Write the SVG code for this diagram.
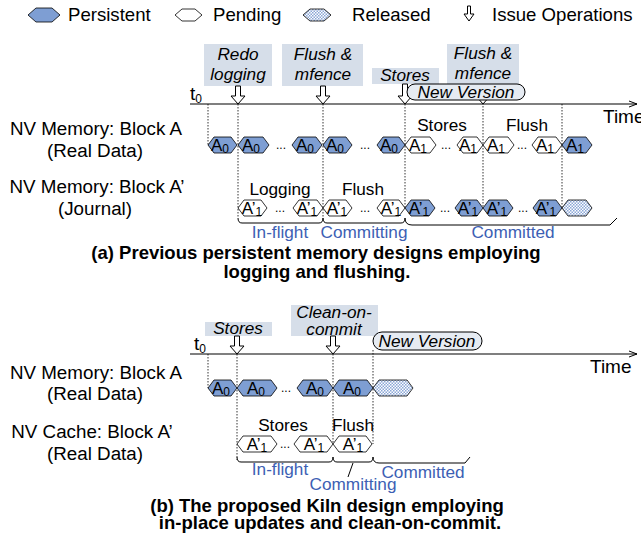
<svg xmlns="http://www.w3.org/2000/svg" width="641" height="534" viewBox="0 0 641 534">
<defs>
<pattern id="chk" width="3" height="3" patternUnits="userSpaceOnUse">
<rect width="3" height="3" fill="#ffffff"/>
<rect x="0" y="0" width="1.5" height="1.5" fill="#8aa6d6"/>
<rect x="1.5" y="1.5" width="1.5" height="1.5" fill="#8aa6d6"/>
</pattern>
<marker id="ax" markerWidth="10" markerHeight="8" refX="9" refY="4" orient="auto" markerUnits="userSpaceOnUse">
<path d="M1,1 L9,4 L1,7" fill="none" stroke="#000" stroke-width="1"/>
</marker>
</defs>
<style>
text{font-family:"Liberation Sans",Arial,sans-serif;fill:#000}
.lg{font-size:18.6px}
.lb{font-size:18.8px;text-anchor:middle}
.it{font-size:17.2px;font-style:italic;text-anchor:middle}
.sm{font-size:17.2px;text-anchor:middle}
.bl{font-size:17.2px;text-anchor:middle;fill:#3d5fb4}
.cap{font-size:18.5px;font-weight:bold;text-anchor:middle}
.hx{font-size:17px;text-anchor:middle}
.sub{font-size:12px}
.per{fill:#7e9ed3;stroke:#000;stroke-width:0.8}
.pen{fill:#fff;stroke:#000;stroke-width:0.8}
.rel{fill:url(#chk);stroke:#000;stroke-width:0.8}
.box{fill:#d6dee9}
.pill{fill:#e6ebf2;stroke:#000;stroke-width:1}
.dot{stroke:#000;stroke-width:0.8;stroke-dasharray:1.5,1.5;fill:none}
.axis{stroke:#000;stroke-width:1.2;fill:none}
.arr{fill:#fff;stroke:#000;stroke-width:1}
.br{fill:none;stroke:#000;stroke-width:1}
.dots{font-size:12px;text-anchor:middle}
.t0{font-size:19px}
.tm{font-size:19px}
</style>

<!-- Legend -->
<g id="legend">
<polygon class="per" points="28,15 36,8 52,8 60,15 52,22 36,22"/>
<text class="lg" x="68" y="21">Persistent</text>
<polygon class="pen" points="175,15 182,9 195,9 202,15 195,21 182,21"/>
<text class="lg" x="213" y="21">Pending</text>
<polygon class="rel" points="303,15 310,9 324,9 331,15 324,21 310,21"/>
<text class="lg" x="352" y="21">Released</text>
<polygon class="arr" points="467.5,6 470.5,6 470.5,14 474,14 469,21 464,14 467.5,14"/>
<text class="lg" x="492" y="21">Issue Operations</text>
</g>

<!-- Part (a) -->
<g id="a-labels">
<text class="lb" x="96" y="135">NV Memory: Block A</text>
<text class="lb" x="95" y="157">(Real Data)</text>
<text class="lb" x="97" y="193">NV Memory: Block A’</text>
<text class="lb" x="95" y="215">(Journal)</text>
<text class="cap" x="316" y="259">(a) Previous persistent memory designs employing</text>
<text class="cap" x="317" y="278">logging and flushing.</text>
</g>

<g id="a-ops">
<rect class="box" x="204" y="44" width="68" height="42"/>
<text class="it" x="238" y="60">Redo</text>
<text class="it" x="238" y="80">logging</text>
<rect class="box" x="282" y="44" width="81" height="42"/>
<text class="it" x="323" y="60">Flush &amp;</text>
<text class="it" x="323" y="80">mfence</text>
<rect class="box" x="372" y="68" width="67" height="16"/>
<text class="it" x="405" y="81">Stores</text>
<rect class="box" x="447" y="44" width="72" height="42"/>
<text class="it" x="483" y="59">Flush &amp;</text>
<text class="it" x="483" y="79">mfence</text>
</g>

<g id="connectors-a">
<line class="axis" x1="190" y1="104" x2="637" y2="104" marker-end="url(#ax)"/>
<line class="dot" x1="208" y1="104" x2="208" y2="145"/>
<line class="dot" x1="238" y1="104" x2="238" y2="218"/>
<line class="dot" x1="323" y1="104" x2="323" y2="218"/>
<line class="dot" x1="405" y1="104" x2="405" y2="208"/>
<line class="dot" x1="483" y1="100" x2="483" y2="208"/>
<line class="dot" x1="562" y1="104" x2="562" y2="208"/>
<polygon class="arr" points="235.5,86 240.5,86 240.5,96 245,96 238,104 231,96 235.5,96"/>
<polygon class="arr" points="320.5,86 325.5,86 325.5,96 330,96 323,104 316,96 320.5,96"/>
<polygon class="arr" points="402.5,84 407.5,84 407.5,96 412,96 405,104 398,96 402.5,96"/>
<polygon class="arr" points="480.5,86 485.5,86 485.5,96 490,96 483,104 476,96 480.5,96"/>
<path class="br" d="M238,218 Q238,223 242,223 L319,223 Q323,223 323,218"/>
<path class="br" d="M323,218 Q323,223 327,223 L401,223 Q405,223 405,218"/>
<path class="br" d="M405,218 Q405,225 412,225 L610,225 L617,218"/>
</g>

<g id="a-newversion">
<rect class="pill" x="407" y="84" width="118" height="16" rx="8"/>
<text class="it" x="466" y="98">New Version</text>
<text class="t0" x="190" y="100">t<tspan class="sub" dy="3">0</tspan></text>
<text class="tm" x="603" y="123">Time</text>
</g>

<g id="a-rowA">
<polygon class="per" points="208,145 214,137 231,137 237,145 231,153 214,153"/>
<text class="hx" x="220" y="151">A<tspan class="sub" dy="2">0</tspan></text>
<polygon class="per" points="238,145 244,137 263,137 269,145 263,153 244,153"/>
<text class="hx" x="251" y="151">A<tspan class="sub" dy="2">0</tspan></text>
<text class="dots" x="281" y="149">...</text>
<polygon class="per" points="292,145 298,137 316,137 322,145 316,153 298,153"/>
<text class="hx" x="305" y="151">A<tspan class="sub" dy="2">0</tspan></text>
<polygon class="per" points="323,145 329,137 346,137 352,145 346,153 329,153"/>
<text class="hx" x="335" y="151">A<tspan class="sub" dy="2">0</tspan></text>
<text class="dots" x="365" y="149">...</text>
<polygon class="per" points="377,145 383,137 399,137 405,145 399,153 383,153"/>
<text class="hx" x="389" y="151">A<tspan class="sub" dy="2">0</tspan></text>
<polygon class="pen" points="405,145 411,137 430,137 436,145 430,153 411,153"/>
<text class="hx" x="418" y="151">A<tspan class="sub" dy="2">1</tspan></text>
<text class="dots" x="446" y="149">...</text>
<polygon class="pen" points="457,145 463,137 477,137 483,145 477,153 463,153"/>
<text class="hx" x="468" y="151">A<tspan class="sub" dy="2">1</tspan></text>
<polygon class="pen" points="483,145 489,137 508,137 514,145 508,153 489,153"/>
<text class="hx" x="496" y="151">A<tspan class="sub" dy="2">1</tspan></text>
<text class="dots" x="522" y="149">...</text>
<polygon class="pen" points="532,145 538,137 556,137 562,145 556,153 538,153"/>
<text class="hx" x="545" y="151">A<tspan class="sub" dy="2">1</tspan></text>
<polygon class="per" points="562,145 568,137 586,137 592,145 586,153 568,153"/>
<text class="hx" x="575" y="151">A<tspan class="sub" dy="2">1</tspan></text>
<text class="sm" x="442" y="131">Stores</text>
<text class="sm" x="527" y="131">Flush</text>
</g>

<g id="a-rowJ">
<polygon class="pen" points="238,208 244,200 261,200 267,208 261,216 244,216"/>
<text class="hx" x="252" y="214">A’<tspan class="sub" dy="2">1</tspan></text>
<text class="dots" x="280" y="212">...</text>
<polygon class="pen" points="293,208 299,200 317,200 323,208 317,216 299,216"/>
<text class="hx" x="307" y="214">A’<tspan class="sub" dy="2">1</tspan></text>
<polygon class="pen" points="323,208 329,200 346,200 352,208 346,216 329,216"/>
<text class="hx" x="337" y="214">A’<tspan class="sub" dy="2">1</tspan></text>
<text class="dots" x="365" y="212">...</text>
<polygon class="pen" points="377,208 383,200 399,200 405,208 399,216 383,216"/>
<text class="hx" x="391" y="214">A’<tspan class="sub" dy="2">1</tspan></text>
<polygon class="per" points="405,208 411,200 429,200 435,208 429,216 411,216"/>
<text class="hx" x="419" y="214">A’<tspan class="sub" dy="2">1</tspan></text>
<text class="dots" x="445" y="212">...</text>
<polygon class="per" points="455,208 461,200 477,200 483,208 477,216 461,216"/>
<text class="hx" x="468" y="214">A’<tspan class="sub" dy="2">1</tspan></text>
<polygon class="per" points="483,208 489,200 507,200 513,208 507,216 489,216"/>
<text class="hx" x="497" y="214">A’<tspan class="sub" dy="2">1</tspan></text>
<text class="dots" x="523" y="212">...</text>
<polygon class="per" points="533,208 539,200 556,200 562,208 556,216 539,216"/>
<text class="hx" x="546" y="214">A’<tspan class="sub" dy="2">1</tspan></text>
<polygon class="rel" points="562,208 568,200 586,200 592,208 586,216 568,216"/>
<text class="sm" x="280" y="195">Logging</text>
<text class="sm" x="363" y="195">Flush</text>
<text class="bl" x="280" y="238">In-flight</text>
<text class="bl" x="364" y="238">Committing</text>
<text class="bl" x="513" y="238">Committed</text>
</g>

<!-- Part (b) -->
<g id="b-labels">
<text class="lb" x="96" y="379">NV Memory: Block A</text>
<text class="lb" x="95" y="400">(Real Data)</text>
<text class="lb" x="92" y="438">NV Cache: Block A’</text>
<text class="lb" x="95" y="460">(Real Data)</text>
<text class="cap" x="327" y="512">(b) The proposed Kiln design employing</text>
<text class="cap" x="330" y="529">in-place updates and clean-on-commit.</text>
</g>

<g id="b-ops">
<rect class="box" x="205" y="322" width="67" height="14"/>
<text class="it" x="238" y="334">Stores</text>
<rect class="box" x="291" y="305" width="87" height="31"/>
<text class="it" x="334" y="318">Clean-on-</text>
<text class="it" x="334" y="335">commit</text>
</g>

<g id="connectors-b">
<line class="axis" x1="190" y1="354" x2="637" y2="354" marker-end="url(#ax)"/>
<line class="dot" x1="208" y1="354" x2="208" y2="388"/>
<line class="dot" x1="237" y1="354" x2="237" y2="460"/>
<line class="dot" x1="333" y1="354" x2="333" y2="444"/>
<line class="dot" x1="373" y1="350" x2="373" y2="444"/>
<polygon class="arr" points="234.5,336 239.5,336 239.5,346 244,346 237,354 230,346 234.5,346"/>
<polygon class="arr" points="330.5,336 335.5,336 335.5,346 340,346 333,354 326,346 330.5,346"/>
<path class="br" d="M237,457 Q237,462 241,462 L329,462 Q333,462 333,457"/>
<path class="br" d="M333,457 Q333,462 337,462 L369,462 Q373,462 373,457"/>
<path class="br" d="M373,457 Q373,463 379,463 L465,463 L470,457"/>
<line class="br" x1="353" y1="463" x2="348" y2="477"/>
</g>

<g id="b-newversion">
<rect class="pill" x="373" y="332" width="109" height="18" rx="9"/>
<text class="it" x="427" y="347">New Version</text>
<text class="t0" x="194" y="350">t<tspan class="sub" dy="3">0</tspan></text>
<text class="tm" x="590" y="373">Time</text>
</g>

<g id="b-rowA">
<polygon class="per" points="208,388 214,380 231,380 237,388 231,396 214,396"/>
<text class="hx" x="221" y="394">A<tspan class="sub" dy="2">0</tspan></text>
<polygon class="per" points="237,388 243,380 271,380 277,388 271,396 243,396"/>
<text class="hx" x="256" y="394">A<tspan class="sub" dy="2">0</tspan></text>
<text class="dots" x="286" y="392">...</text>
<polygon class="per" points="297,388 303,380 327,380 333,388 327,396 303,396"/>
<text class="hx" x="315" y="394">A<tspan class="sub" dy="2">0</tspan></text>
<polygon class="per" points="333,388 339,380 367,380 373,388 367,396 339,396"/>
<text class="hx" x="352" y="394">A<tspan class="sub" dy="2">0</tspan></text>
<polygon class="rel" points="373,388 379,380 407,380 413,388 407,396 379,396"/>
</g>

<g id="b-rowC">
<polygon class="pen" points="237,444 243,436 271,436 277,444 271,452 243,452"/>
<text class="hx" x="257" y="450">A’<tspan class="sub" dy="2">1</tspan></text>
<text class="dots" x="285" y="448">...</text>
<polygon class="pen" points="294,444 300,436 327,436 333,444 327,452 300,452"/>
<text class="hx" x="314" y="450">A’<tspan class="sub" dy="2">1</tspan></text>
<polygon class="pen" points="333,444 339,436 366,436 372,444 366,452 339,452"/>
<text class="hx" x="353" y="450">A’<tspan class="sub" dy="2">1</tspan></text>
<text class="sm" x="283" y="431">Stores</text>
<text class="sm" x="353" y="431">Flush</text>
<text class="bl" x="280" y="475">In-flight</text>
<text class="bl" x="353" y="490">Committing</text>
<text class="bl" x="423" y="478">Committed</text>
</g>
</svg>
